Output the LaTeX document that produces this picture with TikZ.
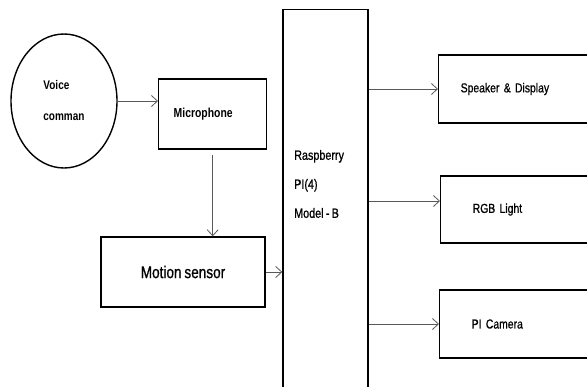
\documentclass[tikz,border=0pt]{standalone}
\usepackage{fontspec}
\newfontfamily\diagfont[FakeStretch=0.8,WordSpace=0.75,UprightFeatures={FakeBold=0.8}]{Liberation Sans}
\usetikzlibrary{arrows.meta,shapes.geometric}

\begin{document}
\begin{tikzpicture}
        [x=1pt,y=-1pt,
        every node/.style={font=\diagfont\fontsize{13}{30}\selectfont,inner sep=0pt},
        block/.style={draw=black,line width=1.4pt,rectangle,minimum height=68pt,align=left},
        link/.style={draw=black!65,line width=0.8pt,-{Straight Barb[length=6pt,width=11pt,line width=0.8pt]}}]
        \clip (0,0) rectangle (587,386);
        \node[draw=black,line width=1.4pt,ellipse,minimum width=106pt,minimum height=134pt,
          align=left,font=\diagfont\bfseries\fontsize{12.5}{31}\selectfont] (voice) at (64,101) {Voice\\comman};
        \node[block,anchor=west,minimum height=70pt,text width=78pt,inner xsep=15pt,
          font=\diagfont\bfseries\fontsize{13}{20}\selectfont] (mic) at (158,114) {Microphone};
        \node[block,minimum width=164pt,minimum height=70pt,
          font=\diagfont\fontsize{17}{20}\selectfont] (motion) at (183,272) {Motion sensor};
        \node[block,anchor=north,minimum width=85pt,minimum height=420pt] (rpi) at (325.5,9) {};
        \node[anchor=west,align=left,font=\diagfont\fontsize{13.5}{29}\selectfont] (rpitext) at (294,184)
          {Raspberry\\PI(4)\\Model - B};
        \node[block,anchor=west,text width=138pt,inner xsep=22pt] (spk) at (438,89) {Speaker \& Display};
        \node[block,anchor=west,minimum height=67pt,text width=116pt,inner xsep=32pt] (rgb) at (440,209.5) {RGB Light};
        \node[block,anchor=west,text width=117pt,inner xsep=32pt] (cam) at (439,324) {PI Camera};
        \coordinate (rgbin) at ([yshift=8.5pt]rgb.west);
        \draw[link] (voice.east) -- (voice.east -| mic.west);
        \draw[link] ([yshift=-5pt]mic.south) -- (mic.south |- motion.north);
        \draw[link] (motion.east) -- (motion.east -| rpi.west);
        \draw[link] (rpi.east |- spk.west) -- (spk.west);
        \draw[link] (rpi.east |- rgbin) -- (rgbin);
        \draw[link] (rpi.east |- cam.west) -- (cam.west);
        \end{tikzpicture}
\end{document}
